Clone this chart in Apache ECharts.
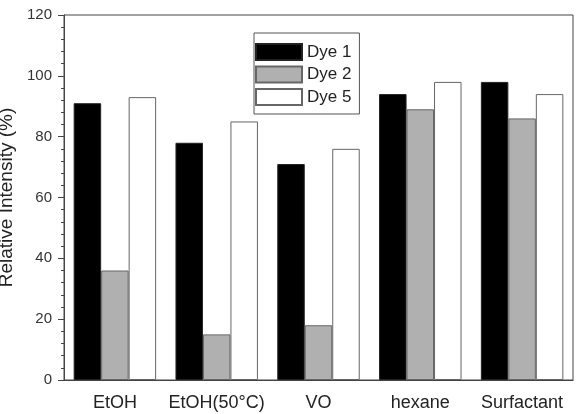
<!DOCTYPE html>
<html>
<head>
<meta charset="utf-8">
<script src="https://cdn.jsdelivr.net/npm/echarts@6/dist/echarts.min.js"></script>
<style>html,body{margin:0;padding:0;background:#fff}#c{width:578px;height:414px}</style>
</head>
<body>
<div id="c"></div>
<script>
const categories = ['EtOH', 'EtOH(50°C)', 'VO', 'hexane', 'Surfactant'];
const dye1 = [91, 78, 71, 94, 98];
const dye2 = [36, 15, 18, 89, 86];
const dye5 = [93, 85, 76, 98, 94];
const seriesNames = ['Dye 1', 'Dye 2', 'Dye 5'];
const yTicks = [0, 20, 40, 60, 80, 100, 120];

const font = '"Liberation Sans", Arial, sans-serif';
const axisColor = '#444';
const chart = echarts.init(document.getElementById('c'), null, {renderer: 'canvas'});
function bar(name, data, color, border) {
  return {
    name: name, type: 'bar', data: data,
    barGap: '0%', barCategoryGap: '19%',
    itemStyle: {color: color, borderColor: border, borderWidth: 1},
    emphasis: {disabled: true}, animation: false
  };
}
chart.setOption({
  animation: false,
  textStyle: {fontFamily: font},
  grid: {left: 64, right: 5, top: 15, bottom: 34, containLabel: false, outerBoundsMode: 'none',
         show: true, borderColor: axisColor, borderWidth: 1},
  legend: {
    orient: 'vertical', left: 254, top: 33,
    data: seriesNames,
    icon: 'rect', itemWidth: 46, itemHeight: 16, itemGap: 4.5,
    padding: [10, 8, 8, 1],
    borderColor: '#555', borderWidth: 1, borderRadius: 0,
    textStyle: {fontFamily: font, fontSize: 17, color: '#222', lineHeight: 18, padding: [0, 0, 0, 0]},
    selectedMode: false
  },
  xAxis: {
    type: 'category', data: categories,
    axisLine: {lineStyle: {color: axisColor}},
    axisTick: {alignWithLabel: true, length: 6, lineStyle: {color: axisColor}},
    axisLabel: {fontFamily: font, fontSize: 18, color: '#222', margin: 14, interval: 0}
  },
  yAxis: {
    type: 'value', min: yTicks[0], max: yTicks[yTicks.length - 1], interval: 20,
    name: 'Relative Intensity (%)', nameLocation: 'middle', nameGap: 46, nameRotate: 90,
    nameTextStyle: {fontFamily: font, fontSize: 19, color: '#222'},
    axisLine: {show: true, lineStyle: {color: axisColor}},
    axisTick: {show: true, length: 6, lineStyle: {color: axisColor}},
    minorTick: {show: true, splitNumber: 5, length: 3, lineStyle: {color: axisColor}},
    splitLine: {show: false},
    axisLabel: {fontFamily: font, fontSize: 15, color: '#333', margin: 12}
  },
  series: [
    bar(seriesNames[0], dye1, '#000000', '#222'),
    bar(seriesNames[1], dye2, '#b0b0b0', '#666'),
    bar(seriesNames[2], dye5, '#ffffff', '#666')
  ]
});
</script>
</body>
</html>
